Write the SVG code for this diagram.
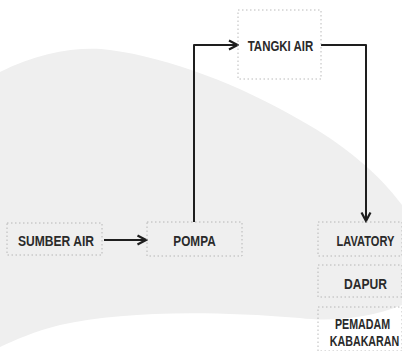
<svg xmlns="http://www.w3.org/2000/svg" width="402" height="351" viewBox="0 0 402 351">
<style>
.box{fill:none;stroke:#a8a8a8;stroke-width:0.8;stroke-dasharray:1.5 2.5}
.lbl{font-family:"Liberation Sans",Arial,sans-serif;font-size:15.5px;font-weight:bold;fill:#2a2a2a;text-anchor:middle}
.con{fill:none;stroke:#1e1e1e;stroke-width:2;stroke-linejoin:round}
</style>
<defs>
<marker id="ah" viewBox="0 0 12 12" refX="10.5" refY="6" markerWidth="12" markerHeight="12" markerUnits="userSpaceOnUse" orient="auto">
<path d="M2,1.5 L10.5,6 L2,10.5" fill="none" stroke="#1e1e1e" stroke-width="2.2" stroke-linejoin="miter"/>
</marker>
</defs>
<rect width="402" height="351" fill="#ffffff"/>
<path id="bg" d="M0,72 C40,52 80,46 110,50 C170,58 240,85 300,120 C345,145 380,175 402,205 L402,305 C370,318 330,322 300,318 C200,310 120,312 60,325 C35,331 15,340 0,347 Z" fill="#efefef"/>
<g id="connectors">
<path class="con" d="M194,222 V45 H237"/>
<path class="con" d="M229,45 H237.5" marker-end="url(#ah)"/>
<path class="con" d="M321,45 H366 V221" marker-end="url(#ah)"/>
<path class="con" d="M104,240 H146" marker-end="url(#ah)" stroke="#3a3a3a"/>
</g>
<g id="tangki">
<rect class="box" x="238" y="10" width="83" height="69"/>
<text class="lbl" transform="translate(280.5,50.5) scale(0.74,1)">TANGKI AIR</text>
</g>
<g id="sumber">
<rect class="box" x="7" y="223" width="95" height="32"/>
<text class="lbl" transform="translate(56,245.5) scale(0.78,1)">SUMBER AIR</text>
</g>
<g id="pompa">
<rect class="box" x="147" y="222" width="95" height="34"/>
<text class="lbl" transform="translate(194.5,245.5) scale(0.76,1)">POMPA</text>
</g>
<g id="lavatory">
<rect class="box" x="318" y="222" width="84" height="34"/>
<text class="lbl" transform="translate(365.5,245.5) scale(0.715,1)">LAVATORY</text>
</g>
<g id="dapur">
<rect class="box" x="318" y="265" width="84" height="32"/>
<text class="lbl" transform="translate(365.5,288.5) scale(0.78,1)">DAPUR</text>
</g>
<g id="pemadam">
<rect class="box" x="318" y="307" width="84" height="44"/>
<text class="lbl" transform="translate(362.5,328.5) scale(0.69,1)">PEMADAM</text>
<text class="lbl" transform="translate(364.5,345.5) scale(0.69,1)">KABAKARAN</text>
</g>
</svg>
